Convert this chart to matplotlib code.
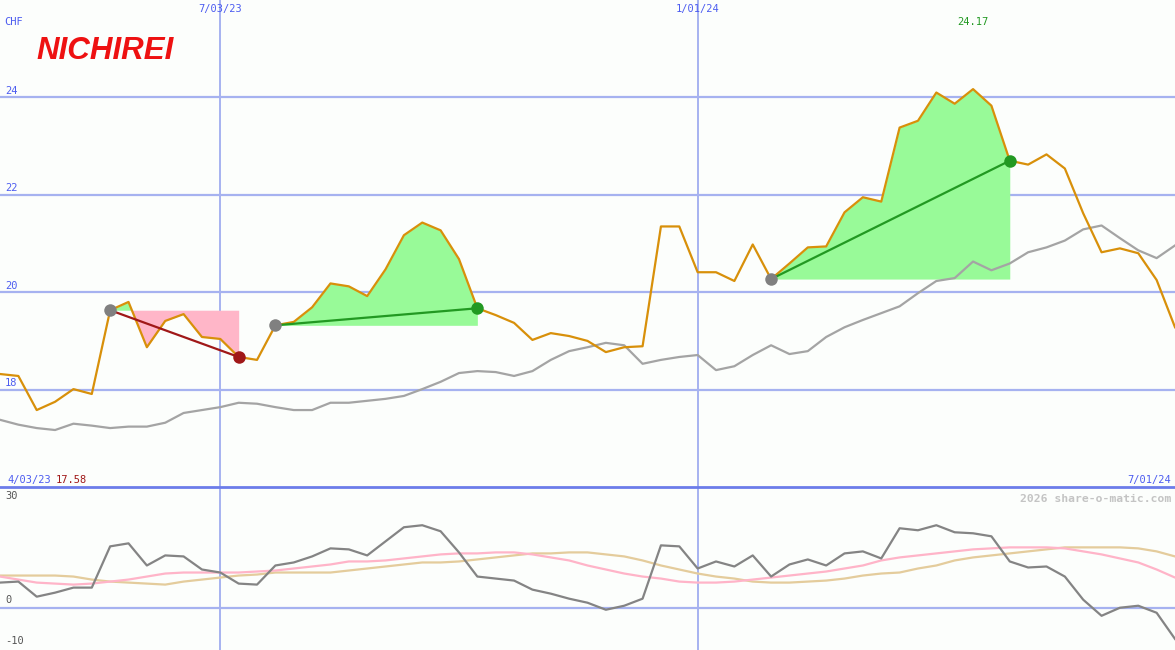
import numpy as np
import pandas as pd
import matplotlib
matplotlib.use("Agg")
import matplotlib.pyplot as plt
import matplotlib.dates as mdates
import matplotlib.transforms as mtransforms

# weekly closes, CHF
dates = pd.date_range("2023-04-10", periods=65, freq="7D")
price = [18.32, 18.28, 17.58, 17.75, 18.01, 17.91, 19.63, 19.80, 18.87, 19.41,
         19.55, 19.08, 19.04, 18.67, 18.61, 19.32, 19.39, 19.69, 20.18, 20.12,
         19.92, 20.47, 21.17, 21.43, 21.27, 20.68, 19.67, 19.53, 19.37, 19.02,
         19.16, 19.10, 19.00, 18.77, 18.87, 18.89, 21.35, 21.35, 20.41, 20.41,
         20.23, 20.98, 20.27, 20.59, 20.92, 20.94, 21.64, 21.95, 21.86, 23.38,
         23.52, 24.10, 23.87, 24.17, 23.83, 22.70, 22.62, 22.83, 22.54, 21.62,
         20.82, 20.90, 20.80, 20.25, 19.28]
moving_avg = [17.38, 17.28, 17.21, 17.17, 17.30, 17.26, 17.21, 17.24, 17.24, 17.32,
              17.52, 17.58, 17.64, 17.73, 17.71, 17.64, 17.58, 17.58, 17.73, 17.73,
              17.77, 17.81, 17.87, 18.01, 18.16, 18.34, 18.38, 18.36, 18.28, 18.38,
              18.61, 18.79, 18.87, 18.96, 18.91, 18.53, 18.61, 18.67, 18.71, 18.40,
              18.48, 18.71, 18.91, 18.73, 18.79, 19.08, 19.28, 19.43, 19.57, 19.71,
              19.98, 20.23, 20.29, 20.63, 20.45, 20.59, 20.82, 20.92, 21.06, 21.29,
              21.37, 21.11, 20.86, 20.70, 20.96]
momentum = [6.25, 6.5, 2.75, 3.75, 5.0, 5.0, 15.25, 16.0, 10.5, 13.0,
            12.75, 9.5, 8.75, 6.0, 5.75, 10.5, 11.25, 12.75, 14.75, 14.5,
            13.0, 16.5, 20.0, 20.5, 19.0, 13.75, 7.75, 7.25, 6.75, 4.5,
            3.5, 2.25, 1.25, -0.5, 0.5, 2.25, 15.5, 15.25, 9.75, 11.5,
            10.25, 13.0, 7.75, 10.75, 12.0, 10.5, 13.5, 14.0, 12.25, 19.75,
            19.25, 20.5, 18.75, 18.5, 17.75, 11.5, 10.0, 10.25, 7.75, 2.0,
            -2.0, 0.0, 0.5, -1.25, -7.75]
signal_fast = [7.75, 7.0, 6.25, 6.0, 5.75, 6.0, 6.5, 7.0, 7.75, 8.5,
               8.75, 8.75, 8.75, 8.75, 9.0, 9.25, 9.75, 10.25, 10.75, 11.5,
               11.5, 11.75, 12.25, 12.75, 13.25, 13.5, 13.5, 13.75, 13.75, 13.25,
               12.5, 11.75, 10.5, 9.5, 8.5, 7.75, 7.25, 6.5, 6.25, 6.25,
               6.5, 7.0, 7.5, 8.0, 8.5, 9.0, 9.75, 10.5, 11.75, 12.5,
               13.0, 13.5, 14.0, 14.5, 14.75, 15.0, 15.0, 15.0, 14.75, 14.0,
               13.25, 12.25, 11.25, 9.5, 7.5]
signal_slow = [8.0, 8.0, 8.0, 8.0, 7.75, 7.0, 6.5, 6.25, 6.0, 5.75,
               6.5, 7.0, 7.5, 8.0, 8.25, 8.75, 8.75, 8.75, 8.75, 9.25,
               9.75, 10.25, 10.75, 11.25, 11.25, 11.5, 12.0, 12.5, 13.0, 13.5,
               13.5, 13.75, 13.75, 13.25, 12.75, 11.75, 10.5, 9.5, 8.5, 7.75,
               7.25, 6.5, 6.25, 6.25, 6.5, 6.75, 7.25, 8.0, 8.5, 8.75,
               9.75, 10.5, 11.75, 12.5, 13.0, 13.5, 14.0, 14.5, 15.0, 15.0,
               15.0, 15.0, 14.75, 14.0, 12.75]

# trend segments (start week, end week)
trend_start = [6, 15, 42]
trend_end = [13, 26, 55]

price_ticks = [18, 20, 22, 24]
osc_ticks = [30, 0, -10]
marker_dates = ["2023-07-03", "2024-01-01"]
marker_labels = ["7/03/23", "1/01/24"]
first_label = "4/03/23"
last_label = "7/01/24"

x = mdates.date2num(dates)
price = np.array(price)
bg = "#fcfefc"
grid_c = "#a6b2f0"
blue_txt = "#4c5cf0"
mono = "DejaVu Sans Mono"

fig = plt.figure(figsize=(11.75, 6.5), dpi=100, facecolor=bg)
ax = fig.add_axes([0, 163 / 650, 1, 487 / 650], facecolor=bg)
ax2 = fig.add_axes([0, 0, 1, 163 / 650], facecolor=bg)

for a in (ax, ax2):
    a.set_xlim(x[0], x[-1])
    a.set_xticks([])
    a.set_yticks([])
    for s in a.spines.values():
        s.set_visible(False)
    for d in marker_dates:
        a.axvline(mdates.date2num(pd.Timestamp(d)), color=grid_c, lw=1.4, zorder=1)

# ---- upper panel
ax.set_ylim(16, 26)
left_px = mtransforms.blended_transform_factory(mtransforms.IdentityTransform(), ax.transData)
for v in price_ticks:
    ax.axhline(v, color=grid_c, lw=1.6, zorder=1)
    ax.text(5, v + 0.03, str(v), transform=left_px, fontsize=7.5, family=mono,
            color=blue_txt, va="bottom", ha="left")
ax.text(0.004, 0.965, "CHF", transform=ax.transAxes, fontsize=7.5, family=mono,
        color=blue_txt, va="top")

top = mtransforms.blended_transform_factory(ax.transData, ax.transAxes)
for d, lab in zip(marker_dates, marker_labels):
    ax.text(mdates.date2num(pd.Timestamp(d)), 0.992, lab, transform=top,
            fontsize=7.5, family=mono, color=blue_txt, ha="center", va="top")

imax = int(np.argmax(price))
imin = int(np.argmin(price))
ax.text(x[imax], 0.965, f"{price[imax]:.2f}", transform=top, fontsize=7.5,
        family=mono, color="#229922", ha="center", va="top")
ax.text(0.006, 0.004, first_label, transform=ax.transAxes, fontsize=7.5,
        family=mono, color=blue_txt, va="bottom")
ax.text(0.047, 0.004, f"{price[imin]:.2f}", transform=ax.transAxes, fontsize=7.5,
        family=mono, color="#a01818", va="bottom")
ax.text(0.997, 0.004, last_label, transform=ax.transAxes, fontsize=7.5,
        family=mono, color=blue_txt, va="bottom", ha="right")

ax.text(0.031, 0.896, "NICHIREI", transform=ax.transAxes, fontsize=22.5,
        family="Liberation Sans", weight="bold", style="italic", color="#ee1111",
        va="center", ha="left")

for s, e in zip(trend_start, trend_end):
    xs = x[s:e + 1]
    ps = price[s:e + 1]
    lvl = price[s]
    ax.fill_between(xs, ps, lvl, where=ps >= lvl, interpolate=True,
                    color="#98fa98", lw=0, zorder=2)
    ax.fill_between(xs, ps, lvl, where=ps < lvl, interpolate=True,
                    color="#ffb6c8", lw=0, zorder=2)
    up = price[e] >= lvl
    c = "#229922" if up else "#a01818"
    ax.plot([x[s], x[e]], [price[s], price[e]], color=c, lw=1.6, zorder=4)
    ax.plot(x[s], price[s], "o", color="#808080", ms=9, mec="none", zorder=5)
    ax.plot(x[e], price[e], "o", color=c, ms=9, mec="none", zorder=5)

ax.plot(x, moving_avg, color="#a4a4a4", lw=1.6, zorder=3)
ax.plot(x, price, color="#d8900a", lw=1.6, zorder=3)

# ---- lower panel
ax2.set_ylim(-10.5, 30)
ax2.axhline(0, color=grid_c, lw=1.6, zorder=1)
ax2.spines["top"].set_visible(True)
ax2.spines["top"].set_color("#6c7cea")
ax2.spines["top"].set_linewidth(2.0)
left_px2 = mtransforms.blended_transform_factory(mtransforms.IdentityTransform(), ax2.transData)
for v in osc_ticks:
    yy = v - 2.2 if v == 30 else v + 0.6
    ax2.text(5, yy, str(v), transform=left_px2, fontsize=7.5, family=mono,
             color="#555555", va="bottom" if v != 30 else "center", ha="left")
ax2.text(0.997, 0.955, "2026 share-o-matic.com", transform=ax2.transAxes,
         fontsize=8.2, family=mono, weight="bold", color="#c4c4c4",
         ha="right", va="top")
ax2.plot(x, signal_slow, color="#e4cc9c", lw=1.6, zorder=2)
ax2.plot(x, signal_fast, color="#ffb4c8", lw=1.6, zorder=2)
ax2.plot(x, momentum, color="#848484", lw=1.6, zorder=3)

fig.savefig("out.png", dpi=100, facecolor=bg)
